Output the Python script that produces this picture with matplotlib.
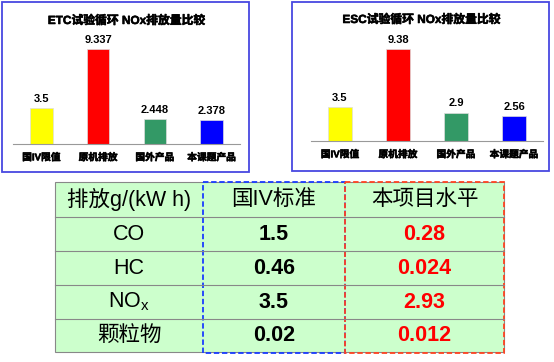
import matplotlib
matplotlib.use('Agg')
import matplotlib.pyplot as plt
from matplotlib.patches import Rectangle
import matplotlib.patheffects as pe

plt.rcParams['font.family'] = ['Liberation Sans', 'Noto Sans CJK SC']

# data
categories = ['国IV限值', '原机排放', '国外产品', '本课题产品']
etc_values = [3.5, 9.337, 2.448, 2.378]
esc_values = [3.5, 9.38, 2.9, 2.56]
etc_labels = ['3.5', '9.337', '2.448', '2.378']
esc_labels = ['3.5', '9.38', '2.9', '2.56']
bar_colors = ['#ffff00', '#ff0000', '#339966', '#0000ff']

table_header = ['排放g/(kW h)', '国IV标准', '本项目水平']
pollutants = ['CO', 'HC', r'NO$_\mathregular{x}$', '颗粒物']
limit_iv = ['1.5', '0.46', '3.5', '0.02']
project_level = ['0.28', '0.024', '2.93', '0.012']

W, H = 554, 362
fig = plt.figure(figsize=(W / 100, H / 100), dpi=100)

bold_fx = [pe.withStroke(linewidth=0.4, foreground='black')]


def pix(x0, y0, x1, y1):
    return [x0 / W, 1 - y1 / H, (x1 - x0) / W, (y1 - y0) / H]


bg = fig.add_axes([0, 0, 1, 1])
bg.set_xlim(0, W)
bg.set_ylim(H, 0)
bg.axis('off')

# chart frames
for x0, y0, x1, y1 in [(2, 2, 249, 172), (292, 2, 549, 171)]:
    bg.add_patch(Rectangle((x0, y0), x1 - x0, y1 - y0, fill=False,
                           edgecolor='#4848e0', lw=1.3))


def bar_chart(rect, values, labels, title, title_xy, width):
    ax = fig.add_axes(rect)
    x = range(len(values))
    bars = ax.bar(x, values, width=width, color=bar_colors,
                  edgecolor='#dddddd', linewidth=0.5)
    ax.bar_label(bars, labels=labels, padding=3, fontsize=8,
                 fontweight='bold')
    ax.set_xlim(-0.5, len(values) - 0.5)
    ax.set_ylim(0, 10.5)
    ax.set_xticks(list(x))
    ax.set_xticklabels(categories, fontsize=7, fontweight='bold')
    for t in ax.get_xticklabels():
        t.set_path_effects(bold_fx)
    ax.tick_params(axis='x', length=0, pad=6)
    ax.set_yticks([])
    for s in ['top', 'left', 'right']:
        ax.spines[s].set_visible(False)
    ax.spines['bottom'].set_color('#999999')
    ax.patch.set_alpha(0)
    bg.text(title_xy[0], title_xy[1], title, ha='center', va='center',
            fontsize=8.5, fontweight='bold', path_effects=bold_fx)
    return ax


# left: baseline 144, 9.337 -> 95 px
h_left = 10.5 / 9.337 * 95
bar_chart(pix(13, 144 - h_left, 240, 144), etc_values, etc_labels,
          'ETC试验循环 NOx排放量比较', (126, 21), 0.4)
# right: baseline 141, 9.38 -> 92 px
h_right = 10.5 / 9.38 * 92
bar_chart(pix(311, 141 - h_right, 543, 141), esc_values, esc_labels,
          'ESC试验循环 NOx排放量比较', (421, 20), 0.41)

# table
col_x = [55, 203, 345, 504]
row_y = [182, 217, 251, 285, 319, 352]
bg.add_patch(Rectangle((col_x[0], row_y[0]), col_x[-1] - col_x[0],
                       row_y[-1] - row_y[0], facecolor='#ccffcc',
                       edgecolor='#888888', lw=0.8))
for y in row_y[1:-1]:
    bg.plot([col_x[0], col_x[-1]], [y, y], color='#888888', lw=0.8)

fs = 15.5
cx = [(col_x[i] + col_x[i + 1]) / 2 for i in range(3)]
cy = [(row_y[i] + row_y[i + 1]) / 2 for i in range(5)]
for i, t in enumerate(table_header):
    bg.text(cx[i], cy[0], t, ha='center', va='center', fontsize=fs)
for r in range(4):
    bg.text(cx[0], cy[r + 1], pollutants[r], ha='center', va='center',
            fontsize=fs)
    bg.text(cx[1], cy[r + 1], limit_iv[r], ha='center', va='center',
            fontsize=fs, fontweight='bold', color='black')
    bg.text(cx[2], cy[r + 1], project_level[r], ha='center', va='center',
            fontsize=fs, fontweight='bold', color='#ff0000')

bg.add_patch(Rectangle((col_x[1], row_y[0]), col_x[2] - col_x[1],
                       row_y[-1] - row_y[0] + 1, fill=False,
                       edgecolor='#1a3cff', lw=1.3, ls=(0, (3, 1.5))))
bg.add_patch(Rectangle((col_x[2], row_y[0]), col_x[3] - col_x[2],
                       row_y[-1] - row_y[0] + 1, fill=False,
                       edgecolor='#ff4422', lw=1.3, ls=(0, (3, 1.5))))

fig.savefig('out.png', dpi=100)
